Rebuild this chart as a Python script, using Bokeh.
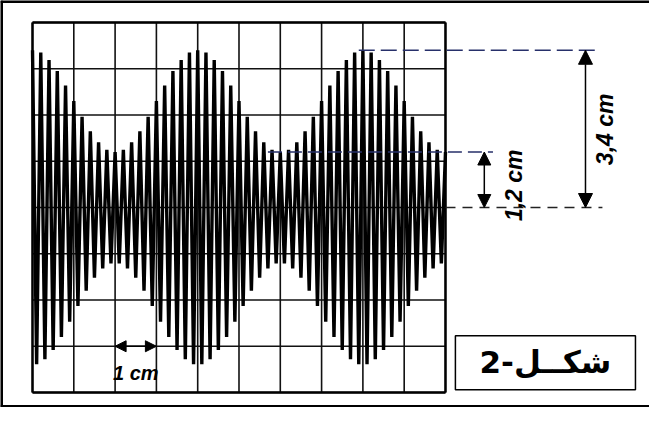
from bokeh.plotting import figure
from bokeh.models import Arrow, NormalHead, Span
from bokeh.core.properties import value
from bokeh.embed import file_html
from bokeh.resources import INLINE

# ---- data (cm on the oscilloscope screen) ----
grid_x_cm = [0, 1, 2, 3, 4, 5, 6, 7, 8, 9, 10]
grid_y_cm = [-4, -3, -2, -1, 0, 1, 2, 3, 4]

# carrier half-period = 0.1 cm ; amplitude of each successive peak (cm)
sample_x_cm = [i / 10 for i in range(101)]
envelope_cm = [
    3.40, 3.39, 3.35, 3.28, 3.19, 3.08, 2.95, 2.80, 2.64, 2.47,
    2.30, 2.13, 1.96, 1.80, 1.65, 1.52, 1.41, 1.32, 1.25, 1.21,
    1.20, 1.21, 1.25, 1.32, 1.41, 1.52, 1.65, 1.80, 1.96, 2.13,
    2.30, 2.47, 2.64, 2.80, 2.95, 3.08, 3.19, 3.28, 3.35, 3.39,
    3.40, 3.39, 3.35, 3.28, 3.19, 3.08, 2.95, 2.80, 2.64, 2.47,
    2.30, 2.13, 1.96, 1.80, 1.65, 1.52, 1.41, 1.32, 1.25, 1.21,
    1.20, 1.21, 1.25, 1.32, 1.41, 1.52, 1.65, 1.80, 1.96, 2.13,
    2.30, 2.47, 2.64, 2.80, 2.95, 3.08, 3.19, 3.28, 3.35, 3.39,
    3.40, 3.39, 3.35, 3.28, 3.19, 3.08, 2.95, 2.80, 2.64, 2.47,
    2.30, 2.13, 1.96, 1.80, 1.65, 1.52, 1.41, 1.32, 1.25, 1.21,
    1.20,
]
trace_y_cm = [a if i % 2 == 0 else -a for i, a in enumerate(envelope_cm)]

max_amp_cm = 3.4
min_amp_cm = 1.2
max_at_cm = 8.0
min_at_cm = 6.0
label_max = "3,4 cm"
label_min = "1,2 cm"
label_div = "1 cm"
fig_title = "شكــل-2"

# ---- figure ----
W, H = 649, 407
p = figure(width=W, height=H, output_backend="svg", toolbar_location=None,
           x_range=(-0.775, 14.94), y_range=(-4.324, 4.476),
           x_axis_type=None, y_axis_type=None, min_border=0,
           background_fill_color="white", border_fill_color="white")
p.outline_line_color = None
p.xgrid.visible = False
p.ygrid.visible = False

# outer frame (left, top, bottom)
p.add_layout(Span(location=-0.775, dimension="height", line_color="black", line_width=5))
p.add_layout(Span(location=4.476, dimension="width", line_color="black", line_width=5))
p.add_layout(Span(location=-4.324, dimension="width", line_color="black", line_width=5))

# screen grid
gx0, gx1 = grid_x_cm[0], grid_x_cm[-1]
gy0, gy1 = grid_y_cm[0], grid_y_cm[-1]
p.segment(x0=grid_x_cm, y0=[gy0] * len(grid_x_cm), x1=grid_x_cm, y1=[gy1] * len(grid_x_cm),
          line_color="#111111", line_width=1.6)
p.segment(x0=[gx0] * len(grid_y_cm), y0=grid_y_cm, x1=[gx1] * len(grid_y_cm), y1=grid_y_cm,
          line_color="#111111", line_width=1.6)
# heavier screen border
p.segment(x0=[gx0, gx1, gx0, gx0], y0=[gy0, gy0, gy0, gy1],
          x1=[gx0, gx1, gx1, gx1], y1=[gy1, gy1, gy0, gy1],
          line_color="black", line_width=2.4)

# signal trace
p.line(sample_x_cm, trace_y_cm, line_color="black", line_width=3.4)

# dashed reference lines
p.line([max_at_cm - 0.1, 13.65], [max_amp_cm, max_amp_cm], line_color="#27306a",
       line_width=1.6, line_dash="16 6")
p.line([min_at_cm - 0.3, 11.15], [min_amp_cm, min_amp_cm], line_color="#27306a",
       line_width=1.6, line_dash="14 6")
p.line([gx1, 13.8], [0, 0], line_color="#222222", line_width=1.4, line_dash="10 7")

# arrows
p.add_layout(Arrow(x_start=13.39, y_start=0, x_end=13.39, y_end=max_amp_cm,
                   line_width=1.5,
                   start=NormalHead(size=14, fill_color="black", line_color="black"),
                   end=NormalHead(size=14, fill_color="black", line_color="black")))
p.add_layout(Arrow(x_start=10.94, y_start=0, x_end=10.94, y_end=min_amp_cm,
                   line_width=1.5,
                   start=NormalHead(size=13, fill_color="black", line_color="black"),
                   end=NormalHead(size=13, fill_color="black", line_color="black")))
p.add_layout(Arrow(x_start=2, y_start=-3, x_end=3, y_end=-3,
                   line_width=1.5,
                   start=NormalHead(size=11, fill_color="black", line_color="black"),
                   end=NormalHead(size=11, fill_color="black", line_color="black")))

# labels
lab_font = value("Liberation Sans")
p.text(x=[13.87], y=[1.69], text=[label_max], angle=1.5708, text_font=lab_font,
       text_font_style="bold italic", text_font_size="23px",
       text_align="center", text_baseline="middle", text_color="black")
p.text(x=[11.67], y=[0.48], text=[label_min], angle=1.5708, text_font=lab_font,
       text_font_style="bold italic", text_font_size="23px",
       text_align="center", text_baseline="middle", text_color="black")
p.text(x=[2.5], y=[-3.57], text=[label_div], text_font=lab_font,
       text_font_style="bold italic", text_font_size="20px",
       text_align="center", text_baseline="middle", text_color="black")

# caption box
p.quad(left=[10.24], right=[14.6], top=[-2.77], bottom=[-3.94],
       fill_color="white", line_color="black", line_width=1.5)
p.text(x=[12.42], y=[-3.35], text=[fig_title], text_font=value("DejaVu Sans"),
       text_font_style="bold", text_font_size="31px",
       text_align="center", text_baseline="middle", text_color="black")

open("out.html", "w").write(file_html(p, INLINE))
